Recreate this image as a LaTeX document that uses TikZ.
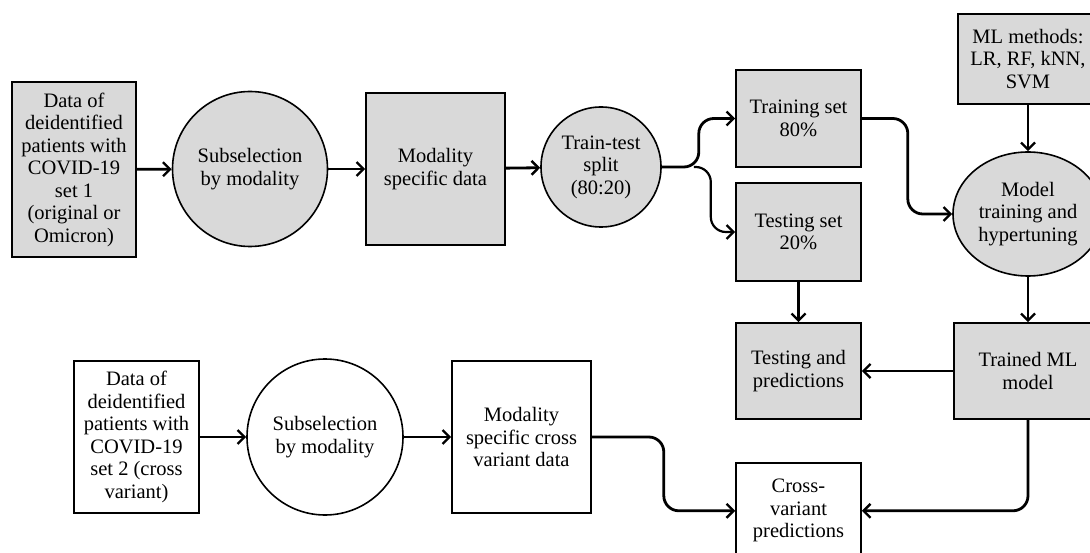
\documentclass[tikz,border=0pt]{standalone}
\usepackage{fontspec}
\setmainfont{Liberation Serif}
\usetikzlibrary{arrows.meta,shapes.geometric,positioning}

\begin{document}
\begin{tikzpicture}[x=1pt,y=-1pt,
  >={Straight Barb[length=7pt,width=14pt,line width=2.4pt]},
  box/.style={draw, line width=1.6pt, fill=gray!30, align=center, inner sep=0pt, font=\fontsize{20.5}{22.5}\selectfont},
  plain/.style={box, fill=white},
  disc/.style={circle},
  oval/.style={ellipse},
  flow/.style={->, line width=2.8pt, rounded corners=15pt}]
  \clip (0,0) rectangle (1090,553);

  \node[box,minimum width=124pt,minimum height=175pt] (data1) at (74,169.5) {Data of\\deidentified\\patients with\\COVID-19\\set 1\\(original or\\Omicron)};
  \node[box,disc,minimum size=155pt] (sub1) at (250,169) {Subselection\\by modality};
  \node[box,minimum width=139pt,minimum height=152pt] (mod1) at (435.5,169) {Modality\\specific data};
  \node[box,disc,minimum size=120pt] (split) at (601,167) {Train-test\\split\\(80:20)};
  \node[box,minimum width=125pt,minimum height=97pt] (train) at (798.5,118.5) {Training set\\80\%};
  \node[box,minimum width=125pt,minimum height=98pt] (test) at (798.5,232) {Testing set\\20\%};
  \node[box,minimum width=140pt,minimum height=90pt] (methods) at (1028,59) {ML methods:\\LR, RF, kNN,\\SVM};
  \node[box,oval,minimum width=150pt,minimum height=124pt] (model) at (1028,214) {Model\\training and\\hypertuning};
  \node[box,minimum width=125pt,minimum height=96pt] (testpred) at (798.5,371) {Testing and\\predictions};
  \node[box,minimum width=148pt,minimum height=96pt] (trained) at (1028,371) {Trained ML\\model};

  \node[plain,minimum width=125pt,minimum height=152pt] (data2) at (136.5,437) {Data of\\deidentified\\patients with\\COVID-19\\set 2 (cross\\variant)};
  \node[plain,disc,minimum size=156pt] (sub2) at (325,437) {Subselection\\by modality};
  \node[plain,minimum width=139pt,minimum height=152pt] (mod2) at (521.5,437) {Modality\\specific cross\\variant data};
  \node[plain,minimum width=125pt,minimum height=96pt,anchor=north] (cross) at (798.5,462) {Cross-\\variant\\predictions};

  \path (split.east) ++(32,0) coordinate (fork);

  \draw[flow] (data1) -- (sub1);
  \draw[flow] (sub1) -- (mod1);
  \draw[flow] (mod1) -- (split);
  \draw[flow] (split.east) -- ++(37,0) |- (train.west);
  \draw[flow,line width=2.2pt] (fork) -- ++(17,0) |- (test.west);
  \draw[flow] (train.east) -- ++(46,0) |- (model.west);
  \draw[flow,line width=2.4pt] (methods) -- (model);
  \draw[flow,line width=2.4pt] (test) -- (testpred);
  \draw[flow] (model) -- (trained);
  \draw[flow,line width=2.4pt] (trained) -- (testpred);
  \draw[flow] (trained.south) |- (cross.east);

  \draw[flow] (data2) -- (sub2);
  \draw[flow] (sub2) -- (mod2);
  \draw[flow] (mod2.east) -- ++(72,0) |- (cross.west);
\end{tikzpicture}
\end{document}
